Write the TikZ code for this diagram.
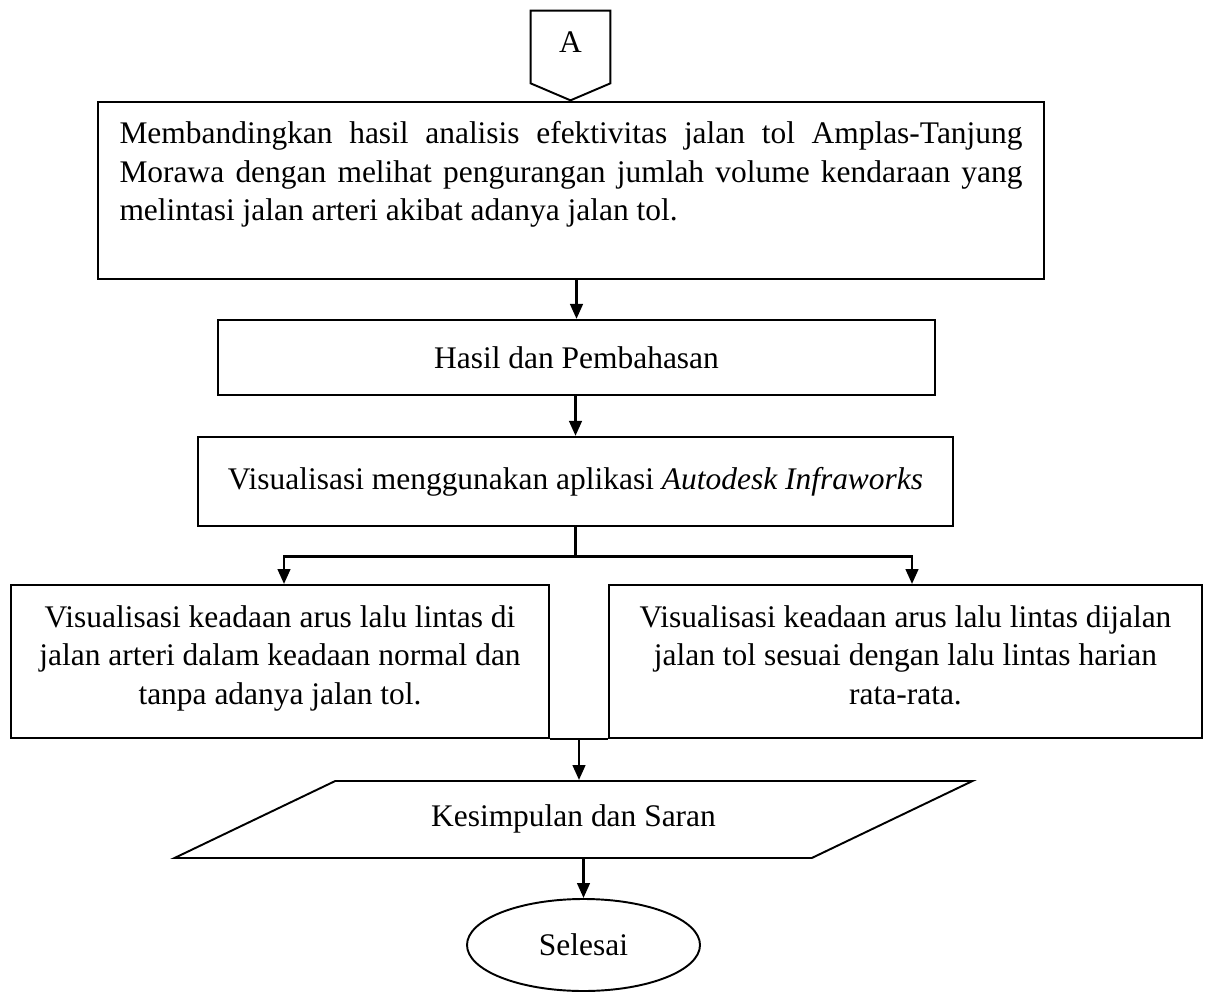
\documentclass[tikz,border=0pt]{standalone}
\usepackage{fontspec}
\setmainfont{Liberation Serif}
\usepackage{tikz}
\usetikzlibrary{
    arrows.meta,
    calc,
    positioning,
    shapes.geometric
}
\tikzstyle{process}=[
    rectangle,
    draw=black,
    line width=1.1pt,
    align=center,
    inner sep=0.1cm
]
\tikzstyle{arrow}=[line width=1.6pt,-{Triangle[length=0.3cm,width=0.25cm]},draw=black]
\tikzstyle{flowline}=[line width=1.6pt,draw=black]

\begin{document}
\begin{tikzpicture}[
    font=\fontsize{17.9}{22}\selectfont,
    offpage/.style={rectangle,minimum width=1.58cm,minimum height=1.44cm,
    text depth=0.2cm,inner sep=0pt},
    io/.style={trapezium,trapezium left angle=25.6,trapezium right angle=154.4,
    trapezium stretches body=true,draw=black,line width=1.1pt,
    text height=0.43cm,text depth=0.14cm,inner xsep=0pt,inner ysep=0.485cm,
    minimum width=15.96cm,minimum height=1.54cm},
    terminator/.style={ellipse,draw=black,line width=1.1pt,
    minimum width=4.66cm,minimum height=1.84cm,inner sep=0pt}
]
\useasboundingbox (0,0) rectangle (24.1,-19.92);
\node[offpage] (konektor) at (11.41,-0.94) {A};
\draw[line width=1.1pt] (konektor.south west) -- (konektor.north west) --
(konektor.north east) -- (konektor.south east) --
($(konektor.south)+(0,-0.34)$) -- cycle;
\node[process,inner xsep=0.43cm,inner ysep=0pt] (banding) at (11.42,-3.81)
{\parbox[c][3.54cm][t]{18.06cm}{\vspace*{0.39cm}%
Membandingkan hasil analisis efektivitas jalan tol \mbox{Amplas-Tanjung}\linebreak
Morawa dengan melihat pengurangan jumlah volume kendaraan yang\linebreak
melintasi jalan arteri akibat adanya jalan tol.}};
\node[process,minimum width=14.34cm,minimum height=1.5cm,
below=0.78cm of banding,xshift=0.11cm] (hasil) {Hasil dan Pembahasan};
\node[process,minimum width=15.1cm,minimum height=1.78cm,
below=0.8cm of hasil,xshift=-0.02cm] (visual)
{Visualisasi menggunakan aplikasi \textit{Autodesk Infraworks}};
\node[process,inner xsep=0.1cm,inner ysep=0pt] (arteri) at (5.6,-13.23)
{\parbox[c][3.06cm][t]{10.56cm}{\centering\vspace*{0.41cm}%
Visualisasi keadaan arus lalu lintas di\\
jalan arteri dalam keadaan normal dan\\ tanpa adanya jalan tol.}};
\node[process,inner xsep=0.1cm,inner ysep=0pt] (toll) at (18.11,-13.23)
{\parbox[c][3.06cm][t]{11.66cm}{\centering\vspace*{0.41cm}%
Visualisasi keadaan arus lalu lintas dijalan\\
jalan tol sesuai dengan lalu lintas harian\\ rata-rata.}};
\node[io] (simpulan) at (11.47,-16.39) {Kesimpulan dan Saran};
\node[terminator] (selesai) at (11.67,-18.9) {Selesai};
% alur
\draw[arrow] (banding.south -| hasil.north) -- (hasil.north);
\draw[arrow] (hasil.south -| visual.north) -- (visual.north);
\draw[flowline] (visual.south) -- ++(0,-0.6) coordinate (cabang);
\draw[arrow] (cabang) -| ([xshift=0.08cm]arteri.north);
\draw[arrow] (cabang) -| ([xshift=0.13cm]toll.north);
\draw[flowline] (arteri.south east) -- (toll.south west);
\coordinate (gabung) at ($(arteri.south east)!0.5!(toll.south west)$);
\draw[arrow] (gabung) -- (gabung |- simpulan.north);
\draw[arrow] (simpulan.south -| selesai.north) -- (selesai.north);
\end{tikzpicture}
\end{document}
